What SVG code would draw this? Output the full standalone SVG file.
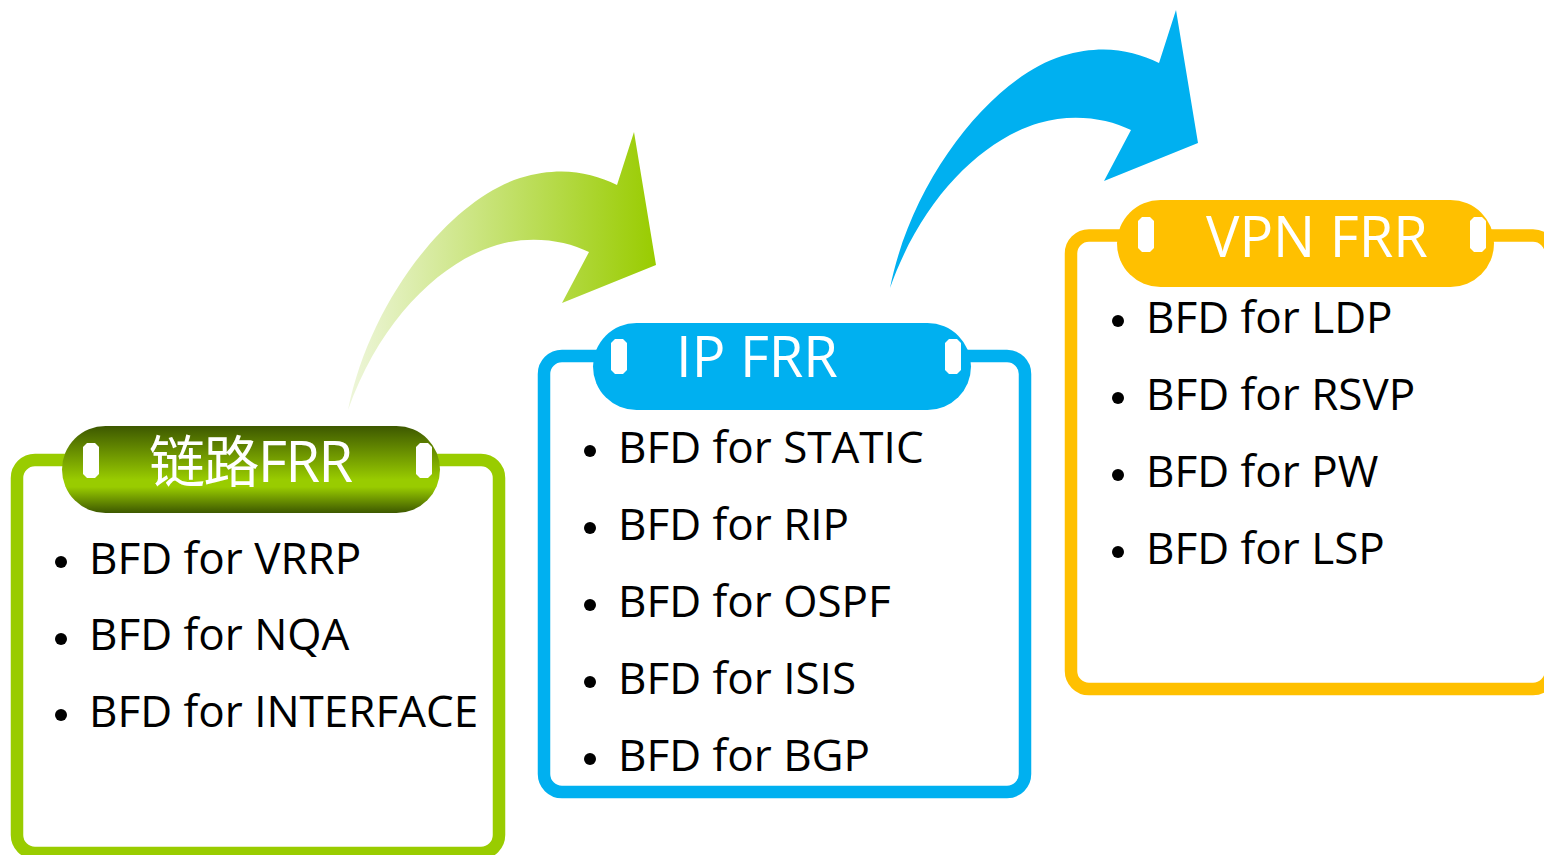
<svg xmlns="http://www.w3.org/2000/svg" width="1544" height="855" viewBox="0 0 1544 855">
<defs>
  <linearGradient id="gArrow" gradientUnits="userSpaceOnUse" x1="348" y1="0" x2="656" y2="0">
    <stop offset="0" stop-color="#eef6db"/>
    <stop offset="1" stop-color="#99cc00"/>
  </linearGradient>
  <linearGradient id="gPill" x1="0" y1="0" x2="0" y2="1">
    <stop offset="0" stop-color="#3d5800"/>
    <stop offset="0.62" stop-color="#99cc00"/>
    <stop offset="0.7" stop-color="#99cc00"/>
    <stop offset="1" stop-color="#3d5800"/>
  </linearGradient>
  <path id="arrowShape" d="M348,410 C370,300 450,200 520,178 C560,166 590,172 617,185 L634,132 L656,265 L562,303 L589,252 C565,240 530,235 497,245 C440,262 380,320 348,410 Z"/>
  <polygon id="slot" points="4,0 12,0 16,4 16,31 12,35 4,35 0,31 0,4"/>
</defs>
<style>
  .box{fill:#ffffff;stroke-width:12.5}
  .title{font-family:"Open Sans","Noto Sans CJK SC",sans-serif;font-size:56px;fill:#ffffff}
  .item{font-family:"Open Sans","Noto Sans",sans-serif;font-size:44px;fill:#000000}
  .slot{fill:#ffffff}
</style>
<rect width="1544" height="855" fill="#ffffff"/>

<g id="connectors">
  <use href="#arrowShape" fill="url(#gArrow)"/>
  <use href="#arrowShape" transform="translate(542,-122)" fill="#00b0f0"/>
</g>

<g id="node-link">
  <rect class="box" x="17" y="460" width="482" height="393" rx="18" stroke="#99cc00"/>
  <rect x="62" y="426" width="378" height="87" rx="43.5" fill="url(#gPill)"/>
  <use href="#slot" class="slot" x="83" y="443"/>
  <use href="#slot" class="slot" x="416" y="443"/>
  <text class="title" x="149" y="482" textLength="204">链路FRR</text>
  <circle cx="61" cy="562" r="6"/>
  <circle cx="61" cy="639" r="6"/>
  <circle cx="61" cy="715" r="6"/>
  <text class="item" x="89" y="574">BFD for VRRP</text>
  <text class="item" x="89" y="650">BFD for NQA</text>
  <text class="item" x="89" y="727">BFD for INTERFACE</text>
</g>

<g id="node-ip">
  <rect class="box" x="544" y="356" width="481" height="436" rx="18" stroke="#00b0f0"/>
  <rect x="593" y="323" width="378" height="87" rx="43.5" fill="#00b0f0"/>
  <use href="#slot" class="slot" x="611" y="339"/>
  <use href="#slot" class="slot" x="945" y="339"/>
  <text class="title" x="676" y="377">IP FRR</text>
  <circle cx="590" cy="451" r="6"/>
  <circle cx="590" cy="528" r="6"/>
  <circle cx="590" cy="605" r="6"/>
  <circle cx="590" cy="682" r="6"/>
  <circle cx="590" cy="759" r="6"/>
  <text class="item" x="618" y="463">BFD for STATIC</text>
  <text class="item" x="618" y="540">BFD for RIP</text>
  <text class="item" x="618" y="617">BFD for OSPF</text>
  <text class="item" x="618" y="694">BFD for ISIS</text>
  <text class="item" x="618" y="771">BFD for BGP</text>
</g>

<g id="node-vpn">
  <rect class="box" x="1071" y="235.5" width="480" height="453.5" rx="18" stroke="#ffc000"/>
  <rect x="1117" y="200" width="377" height="87" rx="43.5" fill="#ffc000"/>
  <use href="#slot" class="slot" x="1138" y="217"/>
  <use href="#slot" class="slot" x="1470" y="217"/>
  <text class="title" x="1206" y="257">VPN FRR</text>
  <circle cx="1118" cy="321" r="6"/>
  <circle cx="1118" cy="398" r="6"/>
  <circle cx="1118" cy="475" r="6"/>
  <circle cx="1118" cy="552" r="6"/>
  <text class="item" x="1146" y="333">BFD for LDP</text>
  <text class="item" x="1146" y="410">BFD for RSVP</text>
  <text class="item" x="1146" y="487">BFD for PW</text>
  <text class="item" x="1146" y="564">BFD for LSP</text>
</g>
</svg>
